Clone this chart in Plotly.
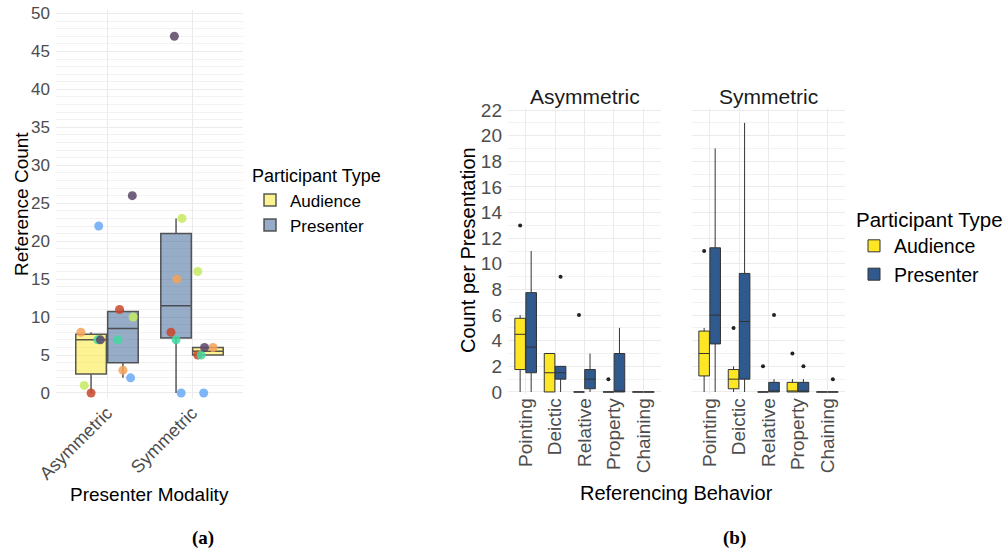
import numpy as np
import plotly.graph_objects as go

# ---------------- (a) Reference count per presenter modality ----------------
modalities = ["Asymmetric", "Symmetric"]
participant_types = ["Audience", "Presenter"]

# one value per session group (same group order in every list)
group_colors = ["#C9472B", "#F4A259", "#C6EA5E", "#3FD9A0", "#6AA8F7", "#5B4566"]

ref_counts = {
    ("Asymmetric", "Audience"): [0, 8, 1, 7, 22, 7],
    ("Asymmetric", "Presenter"): [11, 3, 10, 7, 2, 26],
    ("Symmetric", "Presenter"): [8, 15, 23, 7, 0, 47],
    ("Symmetric", "Audience"): [5, 6, 16, 5, 0, 6],
}

# horizontal jitter of the points, in category units
ref_jitter = {
    ("Asymmetric", "Audience"): [0.0, -0.12, -0.08, 0.08, 0.09, 0.11],
    ("Asymmetric", "Presenter"): [-0.04, 0.0, 0.12, -0.06, 0.09, 0.11],
    ("Symmetric", "Presenter"): [-0.06, 0.01, 0.07, 0.0, 0.06, -0.02],
    ("Symmetric", "Audience"): [-0.12, 0.06, -0.12, -0.08, -0.05, -0.04],
}

# dodge side of each participant type within a modality
dodge_side = {
    ("Asymmetric", "Audience"): -1, ("Asymmetric", "Presenter"): 1,
    ("Symmetric", "Presenter"): -1, ("Symmetric", "Audience"): 1,
}

# ---------------- (b) Count per presentation by referencing behavior ----------------
behaviors = ["Pointing", "Deictic", "Relative", "Property", "Chaining"]

beh_stats = {
    ("Asymmetric", "Audience"): dict(
        q1=[1.75, 0, 0, 0, 0], median=[4.5, 1.5, 0, 0, 0], q3=[5.75, 3, 0, 0, 0],
        lo=[0, 0, 0, 0, 0], hi=[6, 3, 0, 0, 0]),
    ("Asymmetric", "Presenter"): dict(
        q1=[1.5, 1, 0.25, 0, 0], median=[3.5, 1.5, 1, 0, 0], q3=[7.75, 2, 1.75, 3, 0],
        lo=[0, 0, 0, 0, 0], hi=[11, 2, 3, 5, 0]),
    ("Symmetric", "Audience"): dict(
        q1=[1.25, 0.25, 0, 0, 0], median=[3, 1, 0, 0, 0], q3=[4.75, 1.75, 0, 0.75, 0],
        lo=[0, 0, 0, 0, 0], hi=[5, 2, 0, 1, 0]),
    ("Symmetric", "Presenter"): dict(
        q1=[3.75, 1, 0, 0, 0], median=[6, 5.5, 0, 0, 0], q3=[11.25, 9.25, 0.75, 0.75, 0],
        lo=[0, 0, 0, 0, 0], hi=[19, 21, 1, 1, 0]),
}

beh_outliers = {
    ("Asymmetric", "Audience"): [("Pointing", 13), ("Relative", 6), ("Property", 1)],
    ("Asymmetric", "Presenter"): [("Deictic", 9)],
    ("Symmetric", "Audience"): [("Pointing", 11), ("Deictic", 5), ("Relative", 2), ("Property", 3)],
    ("Symmetric", "Presenter"): [("Relative", 6), ("Property", 2), ("Chaining", 1)],
}

# ---------------- styling ----------------
FONT = "Liberation Sans, Arial, Helvetica, sans-serif"
SERIF = "Liberation Serif, Times New Roman, serif"
TICK = "#4D4D4D"
GRID = "#EBEBEB"
MINOR = "#F2F2F2"
DODGE = 0.1875
BOX_W = 0.36

fill_a = {"Audience": "rgba(253,231,37,0.5)", "Presenter": "rgba(48,89,141,0.5)"}
fill_b = {"Audience": "#FDE725", "Presenter": "#30598D"}


def box_stats(values):
    v = np.asarray(values, dtype=float)
    q1, med, q3 = np.percentile(v, [25, 50, 75])
    iqr = q3 - q1
    lo = v[v >= q1 - 1.5 * iqr].min()
    hi = v[v <= q3 + 1.5 * iqr].max()
    return q1, med, q3, lo, hi


fig = go.Figure()

# ---- panel (a): boxes ----
for ptype in participant_types:
    xs, q1s, meds, q3s, los, his = [], [], [], [], [], []
    for mi, mod in enumerate(modalities):
        key = (mod, ptype)
        q1, med, q3, lo, hi = box_stats(ref_counts[key])
        xs.append(mi + 1 + dodge_side[key] * DODGE)
        q1s.append(q1); meds.append(med); q3s.append(q3); los.append(lo); his.append(hi)
    fig.add_trace(go.Box(
        name=ptype, x=xs, q1=q1s, median=meds, q3=q3s, lowerfence=los, upperfence=his,
        width=BOX_W, whiskerwidth=0, boxpoints=False,
        fillcolor=fill_a[ptype], line=dict(color="rgba(60,60,60,0.85)", width=1.5),
        xaxis="x", yaxis="y", legend="legend", legendgroup="a" + ptype,
    ))

# ---- panel (a): jittered group points ----
for key, vals in ref_counts.items():
    mod, ptype = key
    center = modalities.index(mod) + 1 + dodge_side[key] * DODGE
    fig.add_trace(go.Scatter(
        x=[center + j for j in ref_jitter[key]], y=vals, mode="markers",
        marker=dict(color=group_colors, size=9, opacity=0.85, line=dict(width=0)),
        xaxis="x", yaxis="y", showlegend=False, hoverinfo="skip",
    ))

# ---- panel (b): facets ----
facet_axes = {"Asymmetric": ("x2", "y2"), "Symmetric": ("x3", "y3")}
for fi, mod in enumerate(modalities):
    xa, ya = facet_axes[mod]
    for ptype in participant_types:
        key = (mod, ptype)
        side = -1 if ptype == "Audience" else 1
        s = beh_stats[key]
        xs = [i + 1 + side * DODGE for i in range(len(behaviors))]
        fig.add_trace(go.Box(
            name=ptype, x=xs, q1=s["q1"], median=s["median"], q3=s["q3"],
            lowerfence=s["lo"], upperfence=s["hi"],
            width=BOX_W, whiskerwidth=0, boxpoints=False,
            fillcolor=fill_b[ptype], line=dict(color="#333333", width=1),
            xaxis=xa, yaxis=ya, legend="legend2", legendgroup="b" + ptype,
            showlegend=(fi == 0),
        ))
        outs = beh_outliers[key]
        fig.add_trace(go.Scatter(
            x=[behaviors.index(b) + 1 + side * DODGE for b, _ in outs],
            y=[v for _, v in outs], mode="markers",
            marker=dict(color="#222222", size=4),
            xaxis=xa, yaxis=ya, showlegend=False, hoverinfo="skip",
        ))


def px_x(p):
    return p / 1008


def px_y(p):
    return 1 - p / 552


common_x = dict(showgrid=True, gridcolor=GRID, gridwidth=1, zeroline=False, automargin=False,
                showline=False, ticks="", tickfont=dict(size=19, color=TICK, family=FONT))
common_y = dict(showgrid=True, gridcolor=GRID, gridwidth=1, zeroline=False, automargin=False,
                showline=False, ticks="", ticklabelstandoff=5,
                minor=dict(dtick=1, showgrid=True, gridcolor=MINOR, gridwidth=1))

fig.update_layout(
    width=1008, height=552, autosize=False,
    margin=dict(l=0, r=0, t=0, b=0, pad=0, autoexpand=False),
    paper_bgcolor="white", plot_bgcolor="white",
    boxmode="overlay",
    font=dict(family=FONT, color="#000000"),
    xaxis=dict(common_x, domain=[px_x(56), px_x(243)], range=[0.4, 2.6],
               tickvals=[1, 2], ticktext=modalities, tickangle=-45, anchor="y",
               tickfont=dict(size=18, color=TICK, family=FONT)),
    yaxis=dict(common_y, domain=[px_y(398), px_y(10)], range=[-0.66, 50.46],
               tickvals=list(range(0, 51, 5)), anchor="x",
               tickfont=dict(size=17, color=TICK, family=FONT)),
    xaxis2=dict(common_x, domain=[px_x(508), px_x(661)], range=[0.4, 5.6],
                tickvals=[1, 2, 3, 4, 5], ticktext=behaviors, tickangle=-90, anchor="y2"),
    yaxis2=dict(common_y, domain=[px_y(393.5), px_y(108)], range=[-0.12, 22.16],
                tickvals=list(range(0, 23, 2)), anchor="x2",
                tickfont=dict(size=19, color=TICK, family=FONT)),
    xaxis3=dict(common_x, domain=[px_x(692), px_x(845)], range=[0.4, 5.6],
                tickvals=[1, 2, 3, 4, 5], ticktext=behaviors, tickangle=-90, anchor="y3"),
    yaxis3=dict(common_y, domain=[px_y(393.5), px_y(108)], range=[-0.12, 22.16],
                tickvals=list(range(0, 23, 2)), anchor="x3", showticklabels=False,
                matches="y2"),
    legend=dict(x=px_x(250), y=px_y(159), xanchor="left", yanchor="top",
                title=dict(text="Participant Type", font=dict(size=18, family=FONT)),
                font=dict(size=17, family=FONT), bgcolor="rgba(0,0,0,0)",
                traceorder="normal", tracegroupgap=3),
    legend2=dict(x=px_x(854), y=px_y(200), xanchor="left", yanchor="top",
                 title=dict(text="Participant Type", font=dict(size=20.5, family=FONT)),
                 font=dict(size=19.5, family=FONT), bgcolor="rgba(0,0,0,0)",
                 traceorder="normal", tracegroupgap=6),
)

annotations = [
    # facet strips
    dict(text="Asymmetric", x=px_x(584.5), y=px_y(96), font=dict(size=21, color="#1A1A1A")),
    dict(text="Symmetric", x=px_x(768.5), y=px_y(96), font=dict(size=21, color="#1A1A1A")),
    # axis titles
    dict(text="Reference Count", x=px_x(21), y=px_y(204), textangle=-90, font=dict(size=19)),
    dict(text="Presenter Modality", x=px_x(149), y=px_y(494), font=dict(size=19)),
    dict(text="Count per Presentation", x=px_x(468), y=px_y(250), textangle=-90, font=dict(size=20)),
    dict(text="Referencing Behavior", x=px_x(676), y=px_y(493), font=dict(size=20)),
    # sub-figure captions
    dict(text="<b>(a)</b>", x=px_x(203), y=px_y(538), font=dict(size=19, family=SERIF)),
    dict(text="<b>(b)</b>", x=px_x(734), y=px_y(538), font=dict(size=19, family=SERIF)),
]
for a in annotations:
    a.update(xref="paper", yref="paper", showarrow=False, xanchor="center", yanchor="middle")
    a["font"].setdefault("family", FONT)
    a["font"].setdefault("color", "#000000")
fig.update_layout(annotations=annotations)

fig.write_html("out.html")
